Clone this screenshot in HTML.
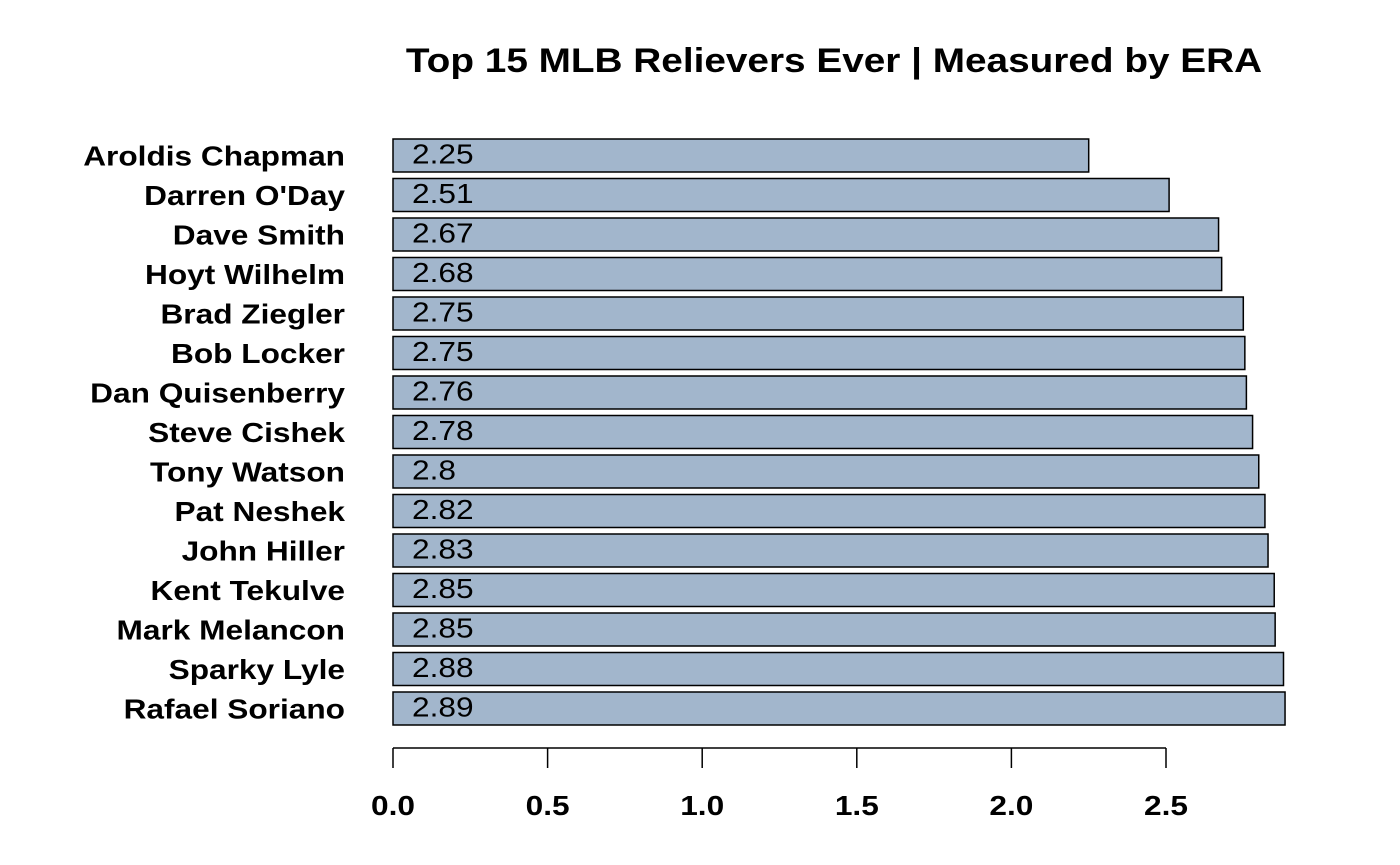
<!DOCTYPE html>
<html><head><meta charset="utf-8"><style>
body{margin:0;background:#fff;}
svg{display:block;font-family:"Liberation Sans",Arial,sans-serif;}
</style></head><body>
<svg id="chart" width="1400" height="865" viewBox="0 0 1400 865">
<text transform="translate(834,72) scale(1.14,1)" text-anchor="middle" font-size="34" font-weight="bold" fill="#000">Top 15 MLB Relievers Ever | Measured by ERA</text>
<g id="bars"></g>
<g id="axis"></g>
</svg>
<script>
const players = ["Aroldis Chapman","Darren O'Day","Dave Smith","Hoyt Wilhelm","Brad Ziegler","Bob Locker","Dan Quisenberry","Steve Cishek","Tony Watson","Pat Neshek","John Hiller","Kent Tekulve","Mark Melancon","Sparky Lyle","Rafael Soriano"];
const eraValues = [2.25,2.51,2.67,2.68,2.75,2.755,2.76,2.78,2.8,2.82,2.83,2.85,2.853,2.88,2.885];
const valueLabels = ["2.25","2.51","2.67","2.68","2.75","2.75","2.76","2.78","2.8","2.82","2.83","2.85","2.85","2.88","2.89"];
const tickValues = [0,0.5,1,1.5,2,2.5];
const tickLabels = ["0.0","0.5","1.0","1.5","2.0","2.5"];

const NS="http://www.w3.org/2000/svg";
const x0=393, pxPerUnit=309.2, y0=139, step=39.5, barH=33, sx=1.13;
const xScale=v=>x0+v*pxPerUnit;
const yScale=i=>y0+i*step;
const bars=document.getElementById('bars');
function mk(tag,attrs,parent){const e=document.createElementNS(NS,tag);for(const k in attrs)e.setAttribute(k,attrs[k]);parent.appendChild(e);return e;}
function tx(x,y){return 'translate('+x+','+y+') scale('+sx+',1)';}
players.forEach((p,i)=>{
  const y=yScale(i);
  const r=mk('rect',{x:xScale(0),y:y,width:xScale(eraValues[i])-xScale(0),height:barH,fill:'#a2b6cc',stroke:'#000','stroke-width':1.5},bars);
  
  
  const l=mk('text',{transform:tx(345,y+barH/2+10),'text-anchor':'end','font-size':28,'font-weight':'bold'},bars);
  l.textContent=p;
  
  
  const v=mk('text',{transform:tx(412,y+barH/2+8),'font-size':28},bars);
  v.textContent=valueLabels[i];
  
  
});
const axis=document.getElementById('axis');
const ln=mk('line',{x1:xScale(0),x2:xScale(2.5),y1:748,y2:748,stroke:'#000','stroke-width':1.5},axis);


tickValues.forEach((t,i)=>{
  const tk=mk('line',{x1:xScale(t),x2:xScale(t),y1:748,y2:768,stroke:'#000','stroke-width':1.5},axis);
  
  
  const tl=mk('text',{transform:tx(xScale(t),815),'text-anchor':'middle','font-size':28,'font-weight':'bold'},axis);
  tl.textContent=tickLabels[i];
  
  
});
</script>
</body></html>
